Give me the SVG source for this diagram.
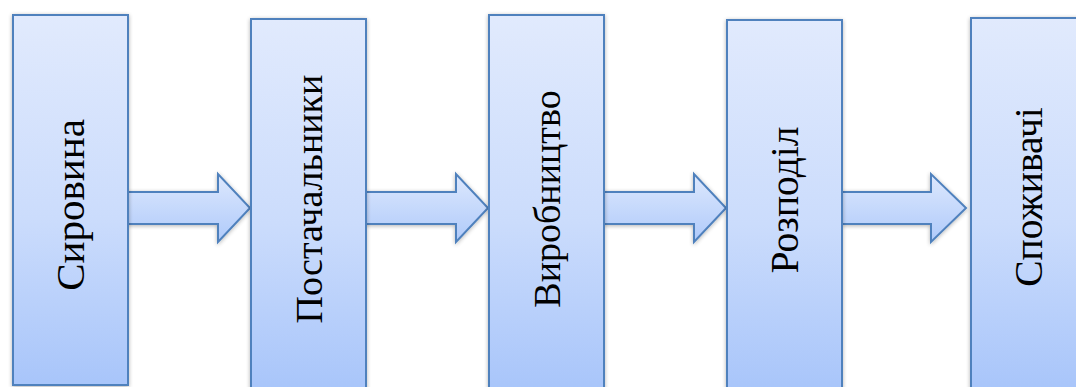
<svg xmlns="http://www.w3.org/2000/svg" width="1076" height="387" viewBox="0 0 1076 387">
  <defs>
    <linearGradient id="boxFill" x1="0" y1="0" x2="0" y2="1">
      <stop offset="0" stop-color="#e1eafd"/>
      <stop offset="0.55" stop-color="#cbdcfc"/>
      <stop offset="1" stop-color="#a8c5fa"/>
    </linearGradient>
    <linearGradient id="arrowFill" x1="0" y1="0" x2="0" y2="1">
      <stop offset="0" stop-color="#dde8fd"/>
      <stop offset="1" stop-color="#afcafa"/>
    </linearGradient>
    <filter id="shadow" x="-10%" y="-10%" width="120%" height="120%">
      <feGaussianBlur in="SourceAlpha" stdDeviation="2"/>
      <feOffset dx="0" dy="1" result="b"/>
      <feComponentTransfer><feFuncA type="linear" slope="0.3"/></feComponentTransfer>
      <feMerge><feMergeNode/><feMergeNode in="SourceGraphic"/></feMerge>
    </filter>
  </defs>
  <style>
    .box { fill: url(#boxFill); stroke: #4f81bd; stroke-width: 2; filter: url(#shadow); }
    .arrow { fill: url(#arrowFill); stroke: #4f81bd; stroke-width: 2; stroke-linejoin: miter; filter: url(#shadow); }
    .label { font-family: "Liberation Serif", "Times New Roman", serif; font-size: 39px; fill: #000; text-anchor: middle; }
  </style>

  <!-- connectors: block arrows between stages -->
  <g id="connectors">
    <polygon class="arrow" points="128,192 218,192 218,174 250,208 218,242 218,224 128,224"/>
    <polygon class="arrow" points="366,192 456,192 456,174 488,208 456,242 456,224 366,224"/>
    <polygon class="arrow" points="604,192 694,192 694,174 726,208 694,242 694,224 604,224"/>
    <polygon class="arrow" points="842,192 931,192 931,174 966,208 931,242 931,224 842,224"/>
  </g>

  <g id="node-syrovyna">
    <rect class="box" x="13" y="15" width="115" height="370"/>
    <text class="label" style="font-size:41px" transform="translate(84,205) rotate(-90)">Сировина</text>
  </g>
  <g id="node-postachalnyky">
    <rect class="box" x="251" y="19" width="115" height="372"/>
    <text class="label" style="font-size:38px" transform="translate(322,199) rotate(-90)">Постачальники</text>
  </g>
  <g id="node-vyrobnytstvo">
    <rect class="box" x="489" y="15" width="115" height="376"/>
    <text class="label" style="font-size:38px" transform="translate(560,199) rotate(-90)">Виробництво</text>
  </g>
  <g id="node-rozpodil">
    <rect class="box" x="727" y="20" width="115" height="371"/>
    <text class="label" style="font-size:39.5px" transform="translate(798,200) rotate(-90)">Розподіл</text>
  </g>
  <g id="node-spozhyvachi">
    <rect class="box" x="971" y="18" width="115" height="373"/>
    <text class="label" style="font-size:39.5px" transform="translate(1042,197) rotate(-90)">Споживачі</text>
  </g>
</svg>
